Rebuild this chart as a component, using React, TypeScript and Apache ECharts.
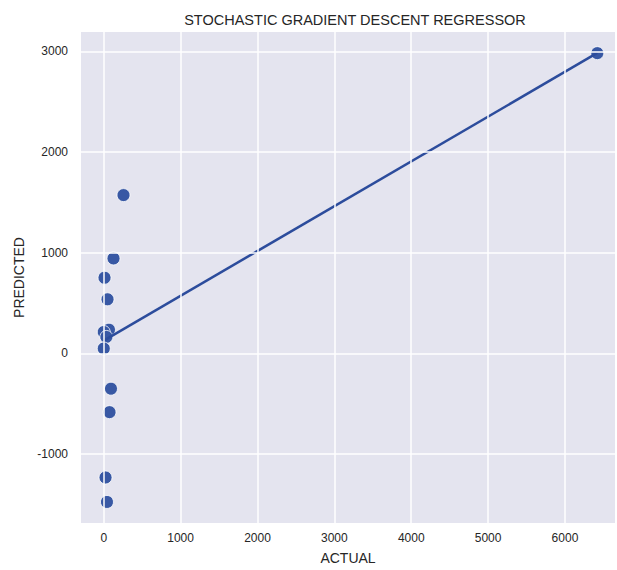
import React, { useEffect, useRef } from "react";
import * as echarts from "echarts";

// Actual vs predicted values for the SGD regressor
const actual = [6421, 257, 127, 10, 49, 68, 0, 34, 0, 94, 75, 23, 42];
const predicted = [2983, 1573, 944, 752, 538, 236, 213, 164, 49, -350, -583, -1232, -1475];

// Fitted regression line end points
const fitX = [0, 6421];
const fitY = [128, 2985];

const xTicks = [0, 1000, 2000, 3000, 4000, 5000, 6000];
const yTicks = [-1000, 0, 1000, 2000, 3000];

const BG = "#e4e4ef";
const POINT = "#3858a4";
const LINE = "#2c4c9c";
const TEXT = "#262626";

export default function App() {
  const ref = useRef<HTMLDivElement>(null);

  useEffect(() => {
    if (!ref.current) return;
    document.body.style.margin = "0";
    document.body.style.overflow = "hidden";
    const chart = echarts.init(ref.current, undefined, { renderer: "svg" });
    const font = "Liberation Sans, Arial, sans-serif";

    chart.setOption({
      animation: false,
      backgroundColor: "#ffffff",
      title: {
        text: "STOCHASTIC GRADIENT DESCENT REGRESSOR",
        left: 350,
        top: 7,
        textAlign: "center",
        textStyle: { fontFamily: font, fontSize: 14.5, fontWeight: "normal", color: TEXT },
      },
      grid: {
        left: 81,
        top: 32,
        right: 2,
        bottom: 42,
        show: true,
        backgroundColor: BG,
        borderWidth: 0,
      },
      xAxis: {
        type: "value",
        min: -296,
        max: 6651,
        name: "ACTUAL",
        nameLocation: "middle",
        nameGap: 28,
        nameTextStyle: { fontFamily: font, fontSize: 14, color: TEXT },
        axisLine: { show: false },
        axisTick: { show: false },
        axisLabel: {
          fontFamily: font,
          fontSize: 12,
          color: TEXT,
          margin: 9,
          customValues: xTicks,
          formatter: (v: number) => String(v),
        },
        splitLine: { show: false },
      },
      yAxis: {
        type: "value",
        min: -1684,
        max: 3193,
        name: "PREDICTED",
        nameLocation: "middle",
        nameGap: 52,
        nameTextStyle: { fontFamily: font, fontSize: 14, color: TEXT },
        axisLine: { show: false },
        axisTick: { show: false },
        axisLabel: {
          fontFamily: font,
          fontSize: 12,
          color: TEXT,
          margin: 13,
          customValues: yTicks,
          formatter: (v: number) => String(v),
        },
        splitLine: { show: false },
      },
      series: [
        {
          // grid lines drawn as mark lines at the tick values
          type: "line",
          data: [],
          silent: true,
          markLine: {
            symbol: "none",
            silent: true,
            label: { show: false },
            lineStyle: { color: "#ffffff", width: 1.5, type: "solid" },
            data: [
              ...xTicks.map((v) => ({ xAxis: v })),
              ...yTicks.map((v) => ({ yAxis: v })),
            ],
          },
        },
        {
          type: "scatter",
          data: actual.map((x, i) => [x, predicted[i]]),
          symbolSize: 13,
          itemStyle: { color: POINT, borderColor: "#ffffff", borderWidth: 0.8, opacity: 1 },
          z: 3,
        },
        {
          type: "line",
          data: fitX.map((x, i) => [x, fitY[i]]),
          showSymbol: false,
          lineStyle: { color: LINE, width: 2.5 },
          z: 4,
        },
      ],
    });

    return () => chart.dispose();
  }, []);

  return (
    <div
      ref={ref}
      style={{ position: "fixed", left: 0, top: 0, width: 617, height: 570 }}
    />
  );
}
